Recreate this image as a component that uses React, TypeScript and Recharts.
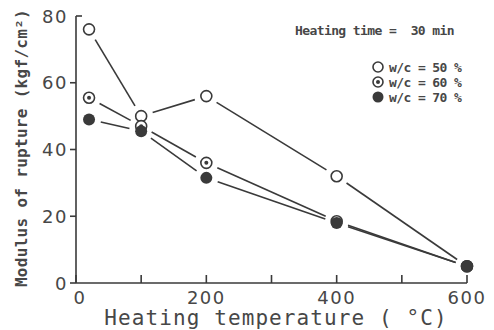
import React from 'react';
import { LineChart, Line, XAxis, YAxis } from 'recharts';

// heating temperature (°C) and modulus of rupture (kgf/cm²) per w/c ratio
const temps = [20, 100, 200, 400, 600];
const wc50 = [76, 50, 56, 32, 5];
const wc60 = [55.5, 47, 36, 18.5, 5];
const wc70 = [49, 45.5, 31.5, 18, 5];

const xTicks = [0, 100, 200, 300, 400, 500, 600];
const xLabeled = [0, 200, 400, 600];
const yTicks = [0, 20, 40, 60, 80];

const series = [
  { key: 'wc50', label: 'w/c = 50 %', kind: 'open' },
  { key: 'wc60', label: 'w/c = 60 %', kind: 'dotted' },
  { key: 'wc70', label: 'w/c = 70 %', kind: 'filled' },
];

const data = temps.map((t, i) => ({ t, wc50: wc50[i], wc60: wc60[i], wc70: wc70[i] }));

const INK = '#3a3a3a';
const TEXT = '#474747';
const GAP = 12;
const MONO = '"DejaVu Sans Mono", monospace';

const Marker = ({ kind, cx, cy, r = 5.5 }: any) => {
  if (kind === 'filled') return <circle cx={cx} cy={cy} r={r + 0.5} fill={INK} />;
  return (
    <g>
      <circle cx={cx} cy={cy} r={r} fill="#fff" stroke={INK} strokeWidth={1.6} />
      {kind === 'dotted' && <circle cx={cx} cy={cy} r={2} fill={INK} />}
    </g>
  );
};

// each dot draws the segment coming from the previous point, cut short on both ends
const makeDot = (kind: string) => (props: any) => {
  const { cx, cy, index, points } = props;
  let seg = null;
  if (index > 0 && points && points[index - 1]) {
    const p = points[index - 1];
    const dx = cx - p.x;
    const dy = cy - p.y;
    const len = Math.hypot(dx, dy);
    if (len > 2 * GAP) {
      const ux = dx / len;
      const uy = dy / len;
      seg = (
        <line
          x1={p.x + ux * GAP}
          y1={p.y + uy * GAP}
          x2={cx - ux * GAP}
          y2={cy - uy * GAP}
          stroke={INK}
          strokeWidth={1.6}
        />
      );
    }
  }
  return (
    <g key={`dot-${kind}-${index}`}>
      {seg}
      <Marker kind={kind} cx={cx} cy={cy} />
    </g>
  );
};

const XTick = ({ x, y, payload }: any) => (
  <g>
    <line x1={x} x2={x} y1={y} y2={y - 8} stroke={INK} strokeWidth={1.6} />
    {xLabeled.includes(payload.value) && (
      <text
        x={x + (payload.value === 0 ? 4 : 0)}
        y={y + 21}
        textAnchor="middle"
        fontFamily='"DejaVu Sans", sans-serif'
        fontSize={18}
        letterSpacing={1.5}
        fill={TEXT}
      >
        {payload.value}
      </text>
    )}
  </g>
);

const YTick = ({ x, y, payload }: any) => {
  const top = payload.value === 80;
  return (
    <g>
      <line x1={top ? x : x - 6} x2={top ? x + 6 : x} y1={y} y2={y} stroke={INK} strokeWidth={1.6} />
      <text
        x={x - 8}
        y={y + 6.5}
        textAnchor="end"
        fontFamily='"DejaVu Sans", sans-serif'
        fontSize={18}
        letterSpacing={1.5}
        fill={TEXT}
      >
        {payload.value}
      </text>
    </g>
  );
};

const legendText = {
  fontFamily: MONO,
  fontSize: 13,
  fontWeight: 'bold',
  letterSpacing: -0.6,
  fill: TEXT,
  style: { whiteSpace: 'pre' as const },
};

const LegendBox = () => (
  <svg width={494} height={120} style={{ position: 'absolute', left: 0, top: 0, pointerEvents: 'none' }}>
    <text x={295} y={35} {...legendText}>
      {'Heating time =  30 min'}
    </text>
    {series.map((s, i) => (
      <g key={s.key}>
        <Marker kind={s.kind} cx={378} cy={67 + i * 15} r={5} />
        <text x={389} y={71.5 + i * 15} {...legendText}>
          {s.label}
        </text>
      </g>
    ))}
  </svg>
);

export default function App() {
  return (
    <div style={{ position: 'absolute', left: 0, top: 0, width: 494, height: 330, background: '#fff' }}>
      <LineChart width={494} height={330} data={data} margin={{ top: 16, right: 27, left: 36, bottom: 17 }}>
        <XAxis
          type="number"
          dataKey="t"
          domain={[0, 600]}
          ticks={xTicks}
          tickSize={0}
          tickMargin={0}
          tickLine={false}
          tick={<XTick />}
          height={30}
          axisLine={{ stroke: INK, strokeWidth: 1.6 }}
          interval={0}
          label={() => (
            <text x={276} y={325} textAnchor="middle" fontFamily={MONO} fontSize={21} letterSpacing={1.1} fill={TEXT}>
              Heating temperature ( °C)
            </text>
          )}
        />
        <YAxis
          type="number"
          domain={[0, 80]}
          ticks={yTicks}
          tickSize={0}
          tickMargin={0}
          tickLine={false}
          tick={<YTick />}
          width={40}
          axisLine={{ stroke: INK, strokeWidth: 1.6 }}
          interval={0}
          label={() => (
            <text
              x={27}
              y={148}
              transform="rotate(-90 27 148)"
              textAnchor="middle"
              fontFamily={MONO}
              fontSize={16}
              fontWeight="bold"
              letterSpacing={0.3}
              fill={TEXT}
            >
              Modulus of rupture (kgf/cm²)
            </text>
          )}
        />
        {series.map((s) => (
          <Line
            key={s.key}
            dataKey={s.key}
            stroke="none"
            dot={makeDot(s.kind)}
            activeDot={false}
            isAnimationActive={false}
          />
        ))}
      </LineChart>
      <LegendBox />
    </div>
  );
}
